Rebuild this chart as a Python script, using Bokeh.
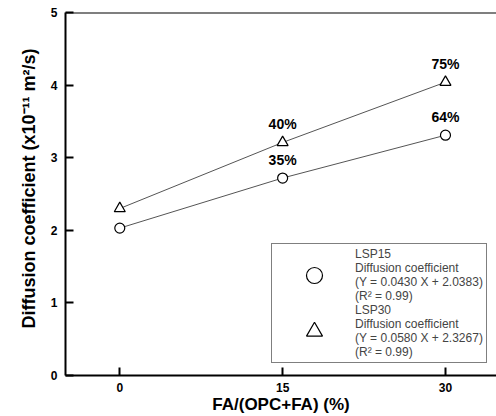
import math
from bokeh.plotting import figure
from bokeh.models import Range1d, Span, Legend, LegendItem, ColumnDataSource, FixedTicker, Title
from bokeh.core.properties import value
from bokeh.embed import file_html
from bokeh.resources import INLINE

fa = [0, 15, 30]
lsp15 = [2.03, 2.72, 3.31]
lsp30 = [2.30, 3.21, 4.04]
lsp15_pct = ["", "35%", "64%"]
lsp30_pct = ["", "40%", "75%"]
x_ticks = [0, 15, 30]
y_ticks = [0, 1, 2, 3, 4, 5]
legend15 = "LSP15\nDiffusion coefficient\n(Y = 0.0430 X + 2.0383)\n(R\u00b2 = 0.99)"
legend30 = "LSP30\nDiffusion coefficient\n(Y = 0.0580 X + 2.3267)\n(R\u00b2 = 0.99)"
x_title = "FA/(OPC+FA) (%)"
y_title = "Diffusion coefficient (x10\u207b\u00b9\u00b9 m\u00b2/s)"

FONT = "Liberation Sans"

p = figure(width=496, height=416, output_backend="svg", toolbar_location=None,
           x_range=Range1d(-5, 34.7), y_range=Range1d(0, 5),
           min_border_left=65, min_border_right=0, min_border_top=12, min_border_bottom=41)
p.outline_line_color = None
p.grid.grid_line_color = None
p.background_fill_color = "white"

for ax in (p.xaxis[0], p.yaxis[0]):
    ax.axis_line_width = 2
    ax.axis_line_color = "black"
    ax.major_tick_line_width = 2
    ax.major_tick_in = 8
    ax.major_tick_out = 0
    ax.minor_tick_line_color = None
    ax.major_label_text_font = FONT
    ax.major_label_text_font_style = "bold"
    ax.major_label_text_font_size = "12px"
    ax.major_label_text_color = "black"
    ax.axis_label_text_font = FONT
    ax.axis_label_text_font_style = "bold"
    ax.axis_label_text_font_size = "17px"
    ax.axis_label_text_color = "black"
p.xaxis.ticker = FixedTicker(ticks=x_ticks)
p.yaxis.ticker = FixedTicker(ticks=y_ticks)
p.xaxis.major_label_standoff = 7
p.yaxis.major_label_standoff = 8
p.xaxis.axis_label = x_title
p.xaxis.axis_label_standoff = 0

p.add_layout(Title(text=y_title, align="left", offset=47, standoff=18,
                   text_font=FONT, text_font_style="bold", text_font_size="18px",
                   text_color="black"), "left")

p.add_layout(Span(location=5, dimension="width", line_color="black", line_width=2))

s15 = ColumnDataSource(dict(x=fa, y=lsp15, t=lsp15_pct))
s30 = ColumnDataSource(dict(x=fa, y=lsp30, t=lsp30_pct))

p.line("x", "y", source=s15, line_color="#555555", line_width=1)
p.line("x", "y", source=s30, line_color="#555555", line_width=1)
r15 = p.scatter("x", "y", source=s15, marker="circle", size=10, fill_color="white",
                line_color="black", line_width=1.2)
r30 = p.scatter("x", "y", source=s30, marker="triangle", size=11, fill_color="white",
                line_color="black", line_width=1.2)

for s in (s15, s30):
    p.text("x", "y", text="t", source=s, text_font=value(FONT), text_font_style="bold",
           text_font_size="14px", text_align="center", text_baseline="middle",
           y_offset=-18, text_color="black")

legend = Legend(items=[LegendItem(label=legend15, renderers=[r15]),
                       LegendItem(label=legend30, renderers=[r30])],
                location=(206, 12), border_line_color="black", border_line_width=1,
                label_text_font=FONT, label_text_font_size="12px",
                glyph_width=78, glyph_height=40, padding=3, spacing=0, margin=0,
                label_standoff=2, background_fill_alpha=1)
p.add_layout(legend)

open("out.html", "w").write(file_html(p, INLINE))
